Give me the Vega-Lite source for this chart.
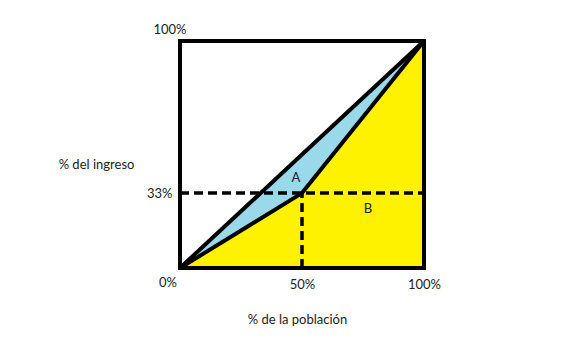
{
  "$schema": "https://vega.github.io/schema/vega-lite/v6.json",
  "width": 244,
  "height": 227,
  "autosize": {"type": "none"},
  "padding": {"left": 180, "top": 41, "right": 154, "bottom": 71},
  "background": "white",
  "config": {
    "view": {"stroke": null},
    "font": "Lato",
    "axis": {"grid": false, "domain": false, "ticks": false, "labelFlush": false, "labelOverlap": false, "labelFont": "Lato", "labelFontSize": 13, "labelColor": "#222", "titleFont": "Lato", "titleFontSize": 13, "titleFontWeight": "normal", "titleColor": "#222"}
  },
  "datasets": {
    "lorenz": [
      {"pob": 0, "diag": 0, "ing": 0},
      {"pob": 50, "diag": 50, "ing": 33},
      {"pob": 100, "diag": 100, "ing": 100}
    ],
    "hline": [{"x1": 0, "x2": 100, "y": 33}],
    "vline": [{"x": 50, "y1": 0, "y2": 33}],
    "box": [{"x1": 0, "x2": 100, "y1": 0, "y2": 100}],
    "areas": [
      {"pob": 47.5, "ing": 39.6, "label": "A"},
      {"pob": 77, "ing": 26, "label": "B"}
    ],
    "zero": [{"pob": 0, "ing": 0, "label": "0%"}],
    "top": [{"pob": 0, "ing": 100, "label": "100%"}]
  },
  "layer": [
    {
      "data": {"name": "lorenz"},
      "mark": {"type": "area", "color": "#FFF200", "opacity": 1},
      "encoding": {
        "x": {"field": "pob", "type": "quantitative", "scale": {"domain": [0, 100], "nice": false},
          "axis": {"values": [50, 100], "labelExpr": "datum.value + '%'", "labelPadding": 10, "title": "% de la población", "titleX": 117, "titleY": 51, "titleBaseline": "middle", "titleAlign": "center"}},
        "y": {"field": "ing", "type": "quantitative", "scale": {"domain": [0, 100], "nice": false},
          "axis": {"values": [33], "labelExpr": "datum.value + '%'", "labelPadding": 8, "title": "% del ingreso", "titleAngle": 0, "titleX": -84, "titleY": 123, "titleAlign": "center", "titleBaseline": "middle"}}
      }
    },
    {
      "data": {"name": "lorenz"},
      "mark": {"type": "area", "color": "#99D9EA", "opacity": 1},
      "encoding": {
        "x": {"field": "pob", "type": "quantitative"},
        "y": {"field": "diag", "type": "quantitative"},
        "y2": {"field": "ing"}
      }
    },
    {
      "data": {"name": "hline"},
      "mark": {"type": "rule", "color": "black", "strokeWidth": 3.5, "strokeDash": [9, 5]},
      "encoding": {
        "x": {"field": "x1", "type": "quantitative"},
        "x2": {"field": "x2"},
        "y": {"field": "y", "type": "quantitative"}
      }
    },
    {
      "data": {"name": "vline"},
      "mark": {"type": "rule", "color": "black", "strokeWidth": 3.5, "strokeDash": [9, 5]},
      "encoding": {
        "x": {"field": "x", "type": "quantitative"},
        "y": {"field": "y1", "type": "quantitative"},
        "y2": {"field": "y2"}
      }
    },
    {
      "data": {"name": "lorenz"},
      "mark": {"type": "line", "color": "black", "strokeWidth": 4, "strokeJoin": "miter"},
      "encoding": {
        "x": {"field": "pob", "type": "quantitative"},
        "y": {"field": "diag", "type": "quantitative"}
      }
    },
    {
      "data": {"name": "lorenz"},
      "mark": {"type": "line", "color": "black", "strokeWidth": 4, "strokeJoin": "miter"},
      "encoding": {
        "x": {"field": "pob", "type": "quantitative"},
        "y": {"field": "ing", "type": "quantitative"}
      }
    },
    {
      "data": {"name": "box"},
      "mark": {"type": "rect", "fill": "transparent", "stroke": "black", "strokeWidth": 4},
      "encoding": {
        "x": {"field": "x1", "type": "quantitative"},
        "x2": {"field": "x2"},
        "y": {"field": "y1", "type": "quantitative"},
        "y2": {"field": "y2"}
      }
    },
    {
      "data": {"name": "areas"},
      "mark": {"type": "text", "font": "Lato", "fontSize": 13, "color": "#222", "baseline": "middle"},
      "encoding": {
        "x": {"field": "pob", "type": "quantitative"},
        "y": {"field": "ing", "type": "quantitative"},
        "text": {"field": "label"}
      }
    },
    {
      "data": {"name": "zero"},
      "mark": {"type": "text", "font": "Lato", "fontSize": 13, "color": "#222", "align": "right", "baseline": "middle", "dx": -3, "dy": 15},
      "encoding": {
        "x": {"field": "pob", "type": "quantitative"},
        "y": {"field": "ing", "type": "quantitative"},
        "text": {"field": "label"}
      }
    },
    {
      "data": {"name": "top"},
      "mark": {"type": "text", "font": "Lato", "fontSize": 13, "color": "#222", "align": "center", "baseline": "middle", "dx": -10, "dy": -11},
      "encoding": {
        "x": {"field": "pob", "type": "quantitative"},
        "y": {"field": "ing", "type": "quantitative"},
        "text": {"field": "label"}
      }
    }
  ]
}
